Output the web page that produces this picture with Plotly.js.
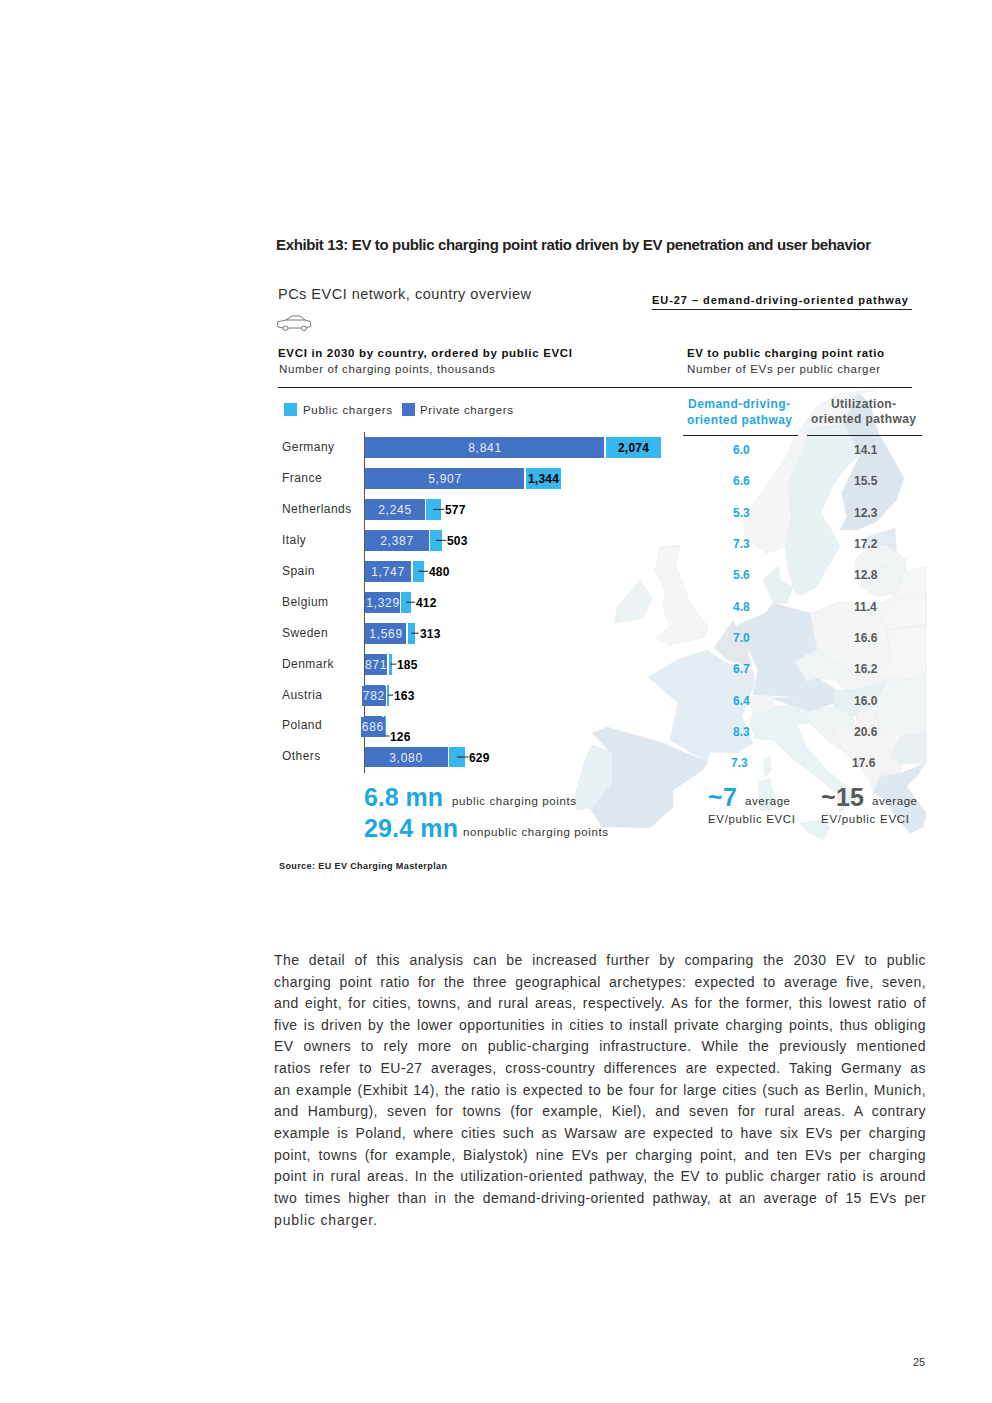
<!DOCTYPE html>
<html><head><meta charset="utf-8">
<script src="https://cdn.plot.ly/plotly-3.0.1.min.js"></script>
<style>html,body{margin:0;padding:0;background:#fff}#c{width:992px;height:1403px}</style>
</head><body><div id="c"></div>
<script>
// ---------- data ----------
const countries = ["Germany","France","Netherlands","Italy","Spain","Belgium","Sweden","Denmark","Austria","Poland","Others"];
const privateChargers = [8841,5907,2245,2387,1747,1329,1569,871,782,686,3080];
const publicChargers  = [2074,1344,577,503,480,412,313,185,163,126,629];
const demandRatio = ["6.0","6.6","5.3","7.3","5.6","4.8","7.0","6.7","6.4","8.3","7.3"];
const utilRatio   = ["14.1","15.5","12.3","17.2","12.8","11.4","16.6","16.2","16.0","20.6","17.6"];
const ratioRowY = [450,481.5,512.5,543.5,574.5,606.5,637.5,668.5,700.5,731.5,762.5];
const paragraph = [
"The detail of this analysis can be increased further by comparing the 2030 EV to public",
"charging point ratio for the three geographical archetypes: expected to average five, seven,",
"and eight, for cities, towns, and rural areas, respectively. As for the former, this lowest ratio of",
"five is driven by the lower opportunities in cities to install private charging points, thus obliging",
"EV owners to rely more on public-charging infrastructure. While the previously mentioned",
"ratios refer to EU-27 averages, cross-country differences are expected. Taking Germany as",
"an example (Exhibit 14), the ratio is expected to be four for large cities (such as Berlin, Munich,",
"and Hamburg), seven for towns (for example, Kiel), and seven for rural areas. A contrary",
"example is Poland, where cities such as Warsaw are expected to have six EVs per charging",
"point, towns (for example, Bialystok) nine EVs per charging point, and ten EVs per charging",
"point in rural areas. In the utilization-oriented pathway, the EV to public charger ratio is around",
"two times higher than in the demand-driving-oriented pathway, at an average of 15 EVs per",
"public charger."];
const paragraphY = [960,981.5,1003,1025,1046,1068,1090,1111,1133,1155,1176,1198,1220];

// ---------- style ----------
const PRIV="#4472C4", PUB="#38B6EE", BLUE="#1FA8E0", GREY="#595959";
const FONT="Liberation Sans, Arial, sans-serif";
const W=992,H=1403;
const px=x=>x/W, py=y=>1-y/H;

// ---------- map backdrop (decorative outline, page pixels) ----------
const north=l=>l.map(p=>[730+p[0]/3,390+p[1]/3]);
const south=l=>l.map(p=>[730+p[0]/3,600+p[1]/3]);
const land=[
 ["#F4F5F6",north([[440,0],[330,10],[260,50],[200,130],[170,200],[100,300],[40,380],[45,440],[110,490],[165,470],[185,380],[175,280],[215,190],[240,115],[340,105],[385,10]])],
 ["#E8F1F4",north([[240,115],[340,105],[360,135],[390,195],[350,230],[310,285],[272,370],[310,430],[330,470],[300,520],[260,590],[215,615],[195,610],[175,540],[165,470],[185,380],[175,280],[215,190]])],
 ["#DAE5EC",north([[340,100],[385,10],[420,40],[445,130],[495,215],[522,265],[500,330],[440,395],[380,420],[330,420],[350,380],[335,310],[360,255],[390,195],[360,135]])],
 ["#E1EBF1",north([[410,440],[495,415],[500,490],[470,465],[430,470],[395,480]])],
 ["#F1F4F5",north([[375,510],[395,490],[430,470],[470,465],[530,510],[525,545],[460,530],[400,540],[378,545]])],
 ["#F1F4F5",north([[378,545],[400,540],[460,530],[525,545],[495,610],[440,620],[390,590]])],
 ["#F5F6F6",north([[525,545],[589,530],[589,690],[440,660],[495,610]])],
 ["#E7F0F3",north([[100,570],[145,525],[150,570],[190,590],[170,640],[130,640]])],
 ["#F5F5F6",[[660,547],[680,545],[676,565],[690,603],[708,627],[703,638],[670,645],[655,638],[670,627],[663,607],[665,590],[655,570]]],
 ["#EDF3F5",[[615,623],[617,607],[640,580],[652,598],[643,618]]],
 ["#F4F6F6",south([[240,40],[330,5],[440,10],[470,90],[485,170],[440,225],[360,210],[320,185],[262,155]])],
 ["#F5F6F6",south([[440,10],[589,-20],[589,75],[470,90]])],
 ["#F5F6F6",south([[470,90],[589,75],[589,215],[540,240],[470,240],[440,225],[485,170]])],
 ["#DDE8EF",[[765,613],[773,603],[810,613],[817,650],[795,661],[807,682],[798,697],[753,695],[758,670],[747,647],[733,627]]],
 ["#F0F5F6",south([[195,185],[262,155],[360,210],[320,240],[265,235],[230,245]])],
 ["#F3F5F5",south([[320,240],[360,210],[440,225],[470,240],[440,265],[380,270],[345,275]])],
 ["#DEE8EE",south([[125,295],[205,290],[230,245],[265,235],[315,265],[310,310],[240,335],[180,315]])],
 ["#E7F0F3",south([[315,270],[380,270],[470,240],[430,320],[370,350],[310,320]])],
 ["#E4E7EC",[[714,648],[733,620],[747,647],[752,667],[737,663],[727,660]]],
 ["#E3EDF2",[[648,677],[677,660],[707,650],[727,663],[753,670],[755,683],[747,703],[742,717],[753,743],[737,753],[710,752],[707,762],[670,740],[678,703]]],
 ["#F4F3F4",south([[60,310],[70,290],[125,290],[135,320],[100,340],[70,335]])],
 ["#E9F3F5",south([[70,335],[100,340],[135,320],[180,315],[240,335],[230,345],[240,370],[200,370],[230,440],[290,510],[390,590],[350,620],[330,640],[320,580],[260,530],[190,480],[130,420],[75,415],[60,370]])],
 ["#E9F3F5",south([[210,670],[270,660],[300,680],[280,720],[230,695]])],
 ["#E9F3F5",south([[85,545],[120,535],[135,600],[120,635],[90,630]])],
 ["#E9F3F5",south([[100,480],[120,470],[125,510],[105,530]])],
 ["#EFF4F5",south([[230,335],[300,320],[370,350],[380,390],[300,370],[350,460],[290,420],[240,370]])],
 ["#F4F4F4",south([[300,375],[380,390],[380,335],[430,330],[450,380],[510,420],[480,470],[520,490],[510,520],[450,530],[430,580],[420,540],[380,490],[340,455]])],
 ["#F2F5F5",south([[470,240],[540,240],[589,215],[589,400],[510,410],[450,380],[430,320]])],
 ["#E9F0F3",south([[510,410],[589,400],[589,490],[520,490],[480,470]])],
 ["#DFE8EE",south([[430,580],[450,530],[510,520],[585,490],[560,530],[530,560],[589,640],[580,680],[540,700],[490,640],[470,600]])],
 ["#DEE7EE",[[592,733],[607,727],[660,742],[708,762],[703,770],[673,790],[673,807],[650,828],[602,827],[590,808],[610,783],[610,752]]],
 ["#EAF1F4",[[592,745],[612,752],[612,783],[592,808],[576,810],[576,790],[585,760]]]
];
const mapShapes=land.map(([c,pts])=>({type:"path",xref:"paper",yref:"paper",layer:"below",fillcolor:c,
  line:{color:"#E6E9EB",width:0.5},
  path:"M"+pts.map(p=>px(p[0])+","+py(p[1])).join(" L")+" Z"}));

// ---------- texts ----------
const ann=[], fit=[];
function T(x,y,text,size,color,opt){opt=opt||{};
  ann.push({xref:"paper",yref:"paper",x:px(x),y:py(y),text:text,showarrow:false,xanchor:opt.a||"left",yanchor:"middle",
    align:opt.a||"left",borderpad:0,borderwidth:0,font:{family:FONT,size:size,color:color,weight:opt.b?"bold":"normal"}});
  fit.push({w:opt.w,ls:opt.ls,just:opt.just});
}
T(276,244.5,"Exhibit 13: EV to public charging point ratio driven by EV penetration and user behavior",15,"#222",{b:1,w:595});
T(278,294,"PCs EVCI network, country overview",14.5,"#333",{w:253});
T(652,300,"EU-27 – demand-driving-oriented pathway",11,"#111",{b:1,w:256});
T(278,352.5,"EVCI in 2030 by country, ordered by public EVCI",11.5,"#111",{b:1,w:294});
T(279,369,"Number of charging points, thousands",11.5,"#333",{w:216});
T(687,352.5,"EV to public charging point ratio",11.5,"#111",{b:1,w:197});
T(687,369,"Number of EVs per public charger",11.5,"#333",{w:193});
T(303,410,"Public chargers",11.5,"#333",{w:89});
T(420,410,"Private chargers",11.5,"#333",{w:93});
T(688,404,"Demand-driving-",12,BLUE,{b:1,w:102});
T(687,420,"oriented pathway",12,BLUE,{b:1,w:105});
T(831,404,"Utilization-",12,GREY,{b:1,w:65});
T(811,419,"oriented pathway",12,GREY,{b:1,w:105});
countries.forEach((c,i)=>T(282,[447,478,509,540,571,602,633,664,695,725,756][i],c,12,"#333",{ls:0.45}));
demandRatio.forEach((v,i)=>T(i==10?739:741,ratioRowY[i],v,12,BLUE,{a:"center",b:1}));
utilRatio.forEach((v,i)=>T(i==10?864:865.5,ratioRowY[i],v,12,GREY,{a:"center",b:1}));
T(364,797,"6.8 mn",25,BLUE,{b:1,w:79});
T(452,801,"public charging points",11.5,"#333",{w:124});
T(364,828,"29.4 mn",25,BLUE,{b:1,w:94});
T(463,832,"nonpublic charging points",11.5,"#333",{w:145});
T(708,797,"~7",25,BLUE,{b:1,w:29});
T(745,801,"average",11.5,"#333",{w:45});
T(708,818.5,"EV/public EVCI",11.5,"#333",{w:87});
T(821,797,"~15",25,GREY,{b:1,w:43});
T(872,801,"average",11.5,"#333",{w:45});
T(821,818.5,"EV/public EVCI",11.5,"#333",{w:88});
T(279,866,"Source: EU EV Charging Masterplan",9,"#222",{w:168,b:1});
paragraph.forEach((l,i)=>T(274,paragraphY[i],l,14,"#333",i<12?{just:652,ls:0.45}:{w:103}));
T(925,1362,"25",11,"#333",{a:"right"});

// value labels on bars, placed through the data axes
const pxPerUnit=0.0272;
const rows=countries;
privateChargers.forEach((v,i)=>{
  const boxed=(rows[i]==="Austria"||rows[i]==="Poland");
  const a={xref:"x",yref:"y",x:v/2,y:rows[i],text:v.toLocaleString("en-US"),showarrow:false,yshift:-1,
    font:{family:FONT,size:12,color:"#E6ECF8"},xanchor:"center",yanchor:"middle",borderpad:0,borderwidth:0};
  if(boxed){a.bgcolor=PRIV;a.width=24;a.height=20;a.xshift=-1;}
  ann.push(a);fit.push({ls:0.7});
});
const leaders=[];
publicChargers.forEach((v,i)=>{
  const tot=privateChargers[i]+v, label=v.toLocaleString("en-US"), inside=i<2;
  const poland=rows[i]==="Poland";
  const a={xref:"x",yref:"y",x:inside?privateChargers[i]+v/2:tot,y:rows[i],text:label,showarrow:false,
    font:{family:FONT,size:12,color:"#000",weight:"bold"},xanchor:inside?"center":"left",yanchor:"middle",align:"left",
    borderpad:0,borderwidth:0,xshift:inside?0:(poland?3.5:4),yshift:poland?-11:-1};
  ann.push(a);fit.push({ls:0.2});
  if(!inside) leaders.push({type:"line",xref:"x",yref:"y",x0:privateChargers[i]+v/2,x1:tot+3/pxPerUnit,
     y0:i,y1:i,line:{color:"#222",width:1}});
});
// Poland's leader drops to its lowered label
leaders.forEach(l=>{ if(l.y0===9){l.yref="paper";l.y0=py(736);l.y1=py(736);} });

// ---------- chart ----------
const rules=[[652,912,309.5],[278,912,387.5],[683,798,435.5],[807,922,435.5]].map(r=>({type:"line",xref:"paper",yref:"paper",
  x0:px(r[0]),x1:px(r[1]),y0:py(r[2]),y1:py(r[2]),line:{color:"#222",width:1}}));
const swatches=[[284,PUB],[402,PRIV]].map(s=>({type:"rect",xref:"paper",yref:"paper",x0:px(s[0]),x1:px(s[0]+13),y0:py(403),y1:py(416),
  fillcolor:s[1],line:{width:0}}));
function carShapes(){ // the small car pictogram
  const seg=[[283,328],[278,327],[277.5,322],[286,320],[292,316],[300,316],[305,320],[310,321.5],[311,326],[306,328],[288,328]];
  const roof=[[286,320],[305,320]];
  const wheel=c=>({type:"circle",xref:"paper",yref:"paper",x0:px(c-2.5),x1:px(c+2.5),y0:py(330.5),y1:py(326),fillcolor:"#fff",line:{color:"#555",width:0.8}});
  const path=l=>({type:"path",xref:"paper",yref:"paper",line:{color:"#555",width:0.8},path:"M"+l.map(p=>px(p[0])+","+py(p[1])).join(" L")});
  return [path(seg),path(roof),wheel(285.5),wheel(304)];
}
const traces=[
 {type:"bar",orientation:"h",name:"Private chargers",y:countries,x:privateChargers,width:0.72,marker:{color:PRIV,line:{color:"#fff",width:1.5}},hoverinfo:"skip"},
 {type:"bar",orientation:"h",name:"Public chargers",y:countries,x:publicChargers,width:0.72,marker:{color:PUB,line:{color:"#fff",width:1.5}},hoverinfo:"skip"}
];
const xMax=12000;
const layout={width:W,height:H,margin:{l:0,r:0,t:0,b:0},paper_bgcolor:"#fff",plot_bgcolor:"rgba(0,0,0,0)",
 barmode:"stack",showlegend:false,font:{family:FONT},
 xaxis:{domain:[px(364.5),px(364.5+xMax*pxPerUnit)],range:[0,xMax],visible:false,fixedrange:true},
 yaxis:{domain:[py(772.5),py(432)],type:"category",categoryorder:"array",categoryarray:countries,range:[10.5,-0.5],
   showline:true,linecolor:"#555",linewidth:1,ticks:"",showticklabels:false,showgrid:false,zeroline:false,fixedrange:true},
 shapes:mapShapes.concat(rules,swatches,carShapes(),leaders),
 annotations:ann};
Plotly.newPlot("c",traces,layout,{staticPlot:true,displayModeBar:false}).then(gd=>{
  fit.forEach((f,i)=>{
    const t=gd.querySelector('g.annotation[data-index="'+i+'"] text');
    if(!t) return;
    const s=t.textContent;
    if(f.ls!==undefined) t.style.letterSpacing=f.ls+"px";
    if(f.w){const n=t.getComputedTextLength();
      t.style.letterSpacing=((f.w-n)/(s.length-1))+"px";}
    if(f.just){const n=t.getComputedTextLength(),sp=(s.match(/ /g)||[]).length;
      t.style.wordSpacing=((f.just-n)/sp)+"px";}
  });
});
</script></body></html>
